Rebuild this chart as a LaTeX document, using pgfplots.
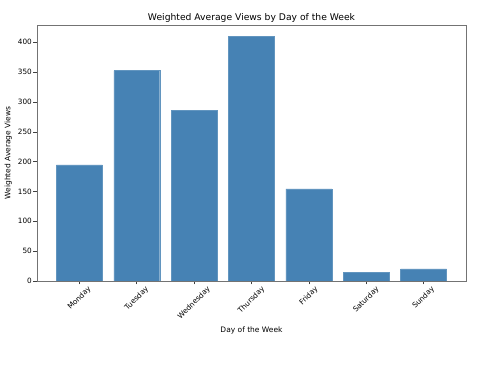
\documentclass[border=0pt]{standalone}
\usepackage{pgfplots}
\pgfplotsset{compat=1.18}
\usepackage{fontspec}
\setmainfont{DejaVu Sans}
\definecolor{barblue}{RGB}{70,130,180}
\begin{document}
\begin{tikzpicture}
\begin{axis}[
  at={(0,0)}, anchor=south west,
  scale only axis,
  width=429pt, height=256pt,
  xmin=-0.74, xmax=6.74,
  ymin=0, ymax=429,
  ybar, bar width=0.8, bar shift=0pt,
  xtick=data,
  xticklabels={\rotatebox{45}{Monday},\rotatebox{45}{Tuesday},\rotatebox{45}{Wednesday},\rotatebox{45}{Thursday},\rotatebox{45}{Friday},\rotatebox{45}{Saturday},\rotatebox{45}{Sunday}},
  xticklabel style={anchor=north, font=\fontsize{7.3}{8}\selectfont, inner sep=1pt},
  ytick={0,50,100,150,200,250,300,350,400},
  yticklabel style={font=\fontsize{7.3}{8}\selectfont, inner sep=1.5pt},
  /pgf/number format/assume math mode=true,
  tick align=outside,
  xtick pos=bottom, ytick pos=left,
  major tick length=3.5pt,
  tick style={black!75, line width=0.6pt},
  axis line style={black!55, line width=0.8pt},
  title={Weighted Average Views by Day of the Week},
  title style={font=\fontsize{9.2}{10}\selectfont, yshift=-6.5pt},
  xlabel={Day of the Week},
  ylabel={Weighted Average Views},
  xlabel style={font=\fontsize{7.5}{8}\selectfont, yshift=-2pt},
  ylabel style={font=\fontsize{7.5}{8}\selectfont, yshift=1pt},
]
\addplot[fill=barblue, draw=barblue!85!white, line width=0.4pt] coordinates {
  (0,194.5) (1,352.5) (2,285.5) (3,409.5) (4,154.5) (5,14.5) (6,20.5)
};
\end{axis}
\useasboundingbox (-37pt,-93pt) rectangle (444pt,281pt);
\end{tikzpicture}
\end{document}
